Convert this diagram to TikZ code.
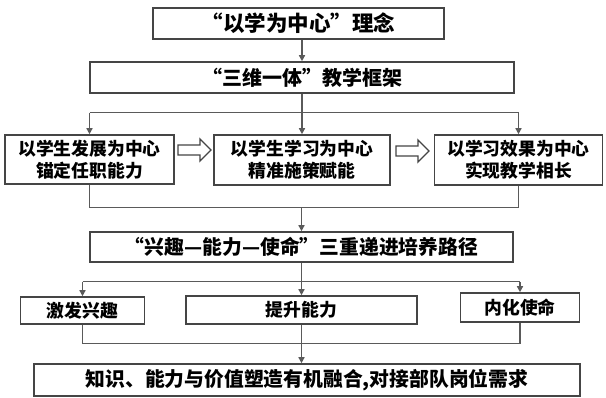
\documentclass[tikz,border=0pt]{standalone}
\usepackage{fontspec}
\setmainfont{Noto Sans CJK SC}
\usetikzlibrary{arrows.meta}
\definecolor{bordercol}{HTML}{454545}
\definecolor{linecol}{HTML}{5A5A5A}
\tikzset{
  box/.style={draw=bordercol, line width=1.6pt, inner sep=0pt, align=center, text=black},
  conn/.style={draw=linecol, line width=1.4pt},
  arr/.style={conn, -{Triangle[length=6pt,width=6pt]}},
  hollow/.style={draw=bordercol, line width=1.3pt, fill=white, line join=miter},
}
\newcommand\myharrow[3]{% name, x, y (left end, centre line)
  \draw[hollow] (#2,#3-5) -- ++(22,0) -- ++(0,-6) -- ++(11,11) -- ++(-11,11) -- ++(0,-6) -- ++(-22,0) -- cycle;
  \coordinate (#1) at (#2+16,#3);
}
\begin{document}
\begin{tikzpicture}[x=1pt,y=-1pt]
\useasboundingbox (0,0) rectangle (606,398);
\fill[white] (0,0) rectangle (606,398);

% level 1 and 2
\node[box, minimum width=291pt, minimum height=31pt, font=\fontsize{21.5}{25}\bfseries] (b1) at (298.5,23.5) {“以学为中心”理念};
\node[box, minimum width=424pt, minimum height=31pt, font=\fontsize{20}{24}\bfseries] (b2) at (302,77.5) {“三维一体”教学框架};

% level 3
\node[box, minimum width=169pt, minimum height=49pt, font=\fontsize{17.8}{22}\bfseries] (a) at (89.5,159.5) {以学生发展为中心\\锚定任职能力};
\node[box, minimum width=176pt, minimum height=50pt, font=\fontsize{17.8}{22}\bfseries] (b) at (302,160) {以学生学习为中心\\精准施策赋能};
\node[box, minimum width=168pt, minimum height=50pt, font=\fontsize{17.8}{22}\bfseries] (c) at (518.5,160) {以学习效果为中心\\实现教学相长};

\myharrow{h1}{178}{150}
\myharrow{h2}{396}{151}

% level 4
\node[box, minimum width=423pt, minimum height=30pt, font=\fontsize{19.8}{24}\bfseries] (d) at (301.5,247) {“兴趣—能力—使命”三重递进培养路径};

% level 5
\node[box, minimum width=124pt, minimum height=27pt, font=\fontsize{17.8}{22}\bfseries] (e1) at (82.5,310.5) {激发兴趣};
\node[box, minimum width=231pt, minimum height=28pt, font=\fontsize{17.8}{22}\bfseries] (e2) at (301.5,310) {提升能力};
\node[box, minimum width=119pt, minimum height=29pt, font=\fontsize{17.8}{22}\bfseries] (e3) at (520,307.5) {内化使命};

% level 6
\node[box, minimum width=546pt, minimum height=32pt, font=\fontsize{19.8}{24}\bfseries] (f) at (307,380) {知识、能力与价值塑造有机融合,对接部队岗位需求};

% connectors
\draw[arr] (b1.south -| b2.north) -- (b2.north);
\draw[conn] (b2.south) -- ++(0,19) coordinate (j1);
\draw[conn] (j1 -| a.north) -- (j1 -| c.north);
\draw[arr] (j1 -| a.north) -- (a.north);
\draw[arr] (j1) -- (j1 |- b.north);
\draw[arr] (j1 -| c.north) -- (c.north);

\draw[conn] (a.south) -- ++(0,23) coordinate (j2);
\draw[conn] (c.south) -- (c.south |- j2);
\draw[conn] (j2) -- (j2 -| c.south);
\draw[arr] (j2 -| d.north) -- (d.north);

\draw[conn] (d.south) -- ++(0,19) coordinate (j3);
\draw[conn] (j3 -| e1.north) -- (j3 -| e3.north);
\draw[arr] (j3 -| e1.north) -- (e1.north);
\draw[arr] (j3) -- (j3 |- e2.north);
\draw[arr] (j3 -| e3.north) -- (e3.north);

\draw[conn] (e1.south) -- ++(0,19) coordinate (j4);
\draw[conn] (e3.south) -- (e3.south |- j4);
\draw[conn] (j4) -- (j4 -| e3.south);
\draw[arr] (e2.south) -- (e2.south |- f.north);
\end{tikzpicture}
\end{document}
